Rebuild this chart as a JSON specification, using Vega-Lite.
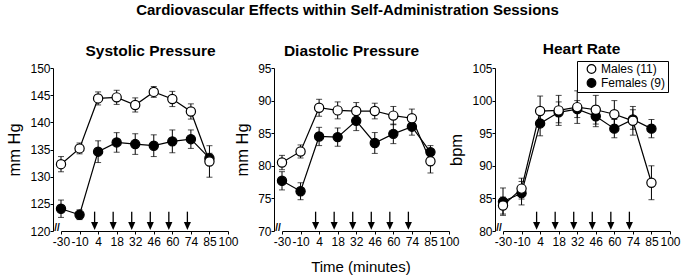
{
  "$schema": "https://vega.github.io/schema/vega-lite/v6.json",
  "padding": {"left": 6, "top": 3, "right": 2, "bottom": 4},
  "background": "white",
  "title": {"text": "Cardiovascular Effects within Self-Administration Sessions", "fontSize": 15, "fontWeight": "bold", "color": "black", "anchor": "middle", "offset": 24, "dx": 4},
  "config": {
    "font": "Liberation Sans",
    "view": {"stroke": null},
    "axis": {"labelFontSize": 12, "labelColor": "black", "domainColor": "black", "tickColor": "black", "titleColor": "black", "grid": false, "titleFontWeight": "normal", "labelOverlap": false},
    "axisX": {"labelAngle": 0, "tickSize": 3, "labelPadding": 2},
    "axisY": {"tickSize": 3, "labelPadding": 0, "offset": 8, "titleFontSize": 16.5, "titlePadding": 7, "labelOverlap": false},
    "title": {"color": "black"}
  },
  "datasets": {
    "bp": [
      {"panel": "sys", "sex": "Females (9)", "time": -30, "mean": 124.1, "err": 1.6},
      {"panel": "sys", "sex": "Females (9)", "time": -10, "mean": 123.0, "err": 0.9},
      {"panel": "sys", "sex": "Females (9)", "time": 4, "mean": 134.6, "err": 2.0},
      {"panel": "sys", "sex": "Females (9)", "time": 18, "mean": 136.3, "err": 1.8},
      {"panel": "sys", "sex": "Females (9)", "time": 32, "mean": 136.0, "err": 1.9},
      {"panel": "sys", "sex": "Females (9)", "time": 46, "mean": 135.7, "err": 2.0},
      {"panel": "sys", "sex": "Females (9)", "time": 60, "mean": 136.5, "err": 2.1},
      {"panel": "sys", "sex": "Females (9)", "time": 74, "mean": 136.9, "err": 1.7},
      {"panel": "sys", "sex": "Females (9)", "time": 85, "mean": 133.4, "err": 0.9},
      {"panel": "sys", "sex": "Males (11)", "time": -30, "mean": 132.3, "err": 1.4},
      {"panel": "sys", "sex": "Males (11)", "time": -10, "mean": 135.2, "err": 1.0},
      {"panel": "sys", "sex": "Males (11)", "time": 4, "mean": 144.4, "err": 1.2},
      {"panel": "sys", "sex": "Males (11)", "time": 18, "mean": 144.6, "err": 1.3},
      {"panel": "sys", "sex": "Males (11)", "time": 32, "mean": 143.2, "err": 1.3},
      {"panel": "sys", "sex": "Males (11)", "time": 46, "mean": 145.6, "err": 1.0},
      {"panel": "sys", "sex": "Males (11)", "time": 60, "mean": 144.3, "err": 1.4},
      {"panel": "sys", "sex": "Males (11)", "time": 74, "mean": 142.0, "err": 1.4},
      {"panel": "sys", "sex": "Males (11)", "time": 85, "mean": 132.8, "err": 2.9},
      {"panel": "dia", "sex": "Females (9)", "time": -30, "mean": 77.7, "err": 1.4},
      {"panel": "dia", "sex": "Females (9)", "time": -10, "mean": 76.1, "err": 1.3},
      {"panel": "dia", "sex": "Females (9)", "time": 4, "mean": 84.5, "err": 1.4},
      {"panel": "dia", "sex": "Females (9)", "time": 18, "mean": 84.4, "err": 1.4},
      {"panel": "dia", "sex": "Females (9)", "time": 32, "mean": 86.9, "err": 1.5},
      {"panel": "dia", "sex": "Females (9)", "time": 46, "mean": 83.5, "err": 1.6},
      {"panel": "dia", "sex": "Females (9)", "time": 60, "mean": 84.9, "err": 1.5},
      {"panel": "dia", "sex": "Females (9)", "time": 74, "mean": 86.0, "err": 1.3},
      {"panel": "dia", "sex": "Females (9)", "time": 85, "mean": 82.1, "err": 1.0},
      {"panel": "dia", "sex": "Males (11)", "time": -30, "mean": 80.5, "err": 1.1},
      {"panel": "dia", "sex": "Males (11)", "time": -10, "mean": 82.2, "err": 1.0},
      {"panel": "dia", "sex": "Males (11)", "time": 4, "mean": 88.9, "err": 1.3},
      {"panel": "dia", "sex": "Males (11)", "time": 18, "mean": 88.5, "err": 1.3},
      {"panel": "dia", "sex": "Males (11)", "time": 32, "mean": 88.4, "err": 1.3},
      {"panel": "dia", "sex": "Males (11)", "time": 46, "mean": 88.4, "err": 1.2},
      {"panel": "dia", "sex": "Males (11)", "time": 60, "mean": 87.7, "err": 1.4},
      {"panel": "dia", "sex": "Males (11)", "time": 74, "mean": 87.3, "err": 1.4},
      {"panel": "dia", "sex": "Males (11)", "time": 85, "mean": 80.7, "err": 1.8},
      {"panel": "hr", "sex": "Females (9)", "time": -30, "mean": 84.5, "err": 2.1},
      {"panel": "hr", "sex": "Females (9)", "time": -10, "mean": 85.8, "err": 1.8},
      {"panel": "hr", "sex": "Females (9)", "time": 4, "mean": 96.5, "err": 1.9},
      {"panel": "hr", "sex": "Females (9)", "time": 18, "mean": 98.2, "err": 1.6},
      {"panel": "hr", "sex": "Females (9)", "time": 32, "mean": 98.7, "err": 1.3},
      {"panel": "hr", "sex": "Females (9)", "time": 46, "mean": 97.6, "err": 1.6},
      {"panel": "hr", "sex": "Females (9)", "time": 60, "mean": 95.7, "err": 1.4},
      {"panel": "hr", "sex": "Females (9)", "time": 74, "mean": 97.1, "err": 1.5},
      {"panel": "hr", "sex": "Females (9)", "time": 85, "mean": 95.7, "err": 1.4},
      {"panel": "hr", "sex": "Males (11)", "time": -30, "mean": 83.9, "err": 1.3},
      {"panel": "hr", "sex": "Males (11)", "time": -10, "mean": 86.5, "err": 1.6},
      {"panel": "hr", "sex": "Males (11)", "time": 4, "mean": 98.4, "err": 2.3},
      {"panel": "hr", "sex": "Males (11)", "time": 18, "mean": 98.5, "err": 2.3},
      {"panel": "hr", "sex": "Males (11)", "time": 32, "mean": 99.0, "err": 2.5},
      {"panel": "hr", "sex": "Males (11)", "time": 46, "mean": 98.6, "err": 2.2},
      {"panel": "hr", "sex": "Males (11)", "time": 60, "mean": 97.9, "err": 2.1},
      {"panel": "hr", "sex": "Males (11)", "time": 74, "mean": 96.9, "err": 2.2},
      {"panel": "hr", "sex": "Males (11)", "time": 85, "mean": 87.4, "err": 2.6}
    ],
    "arrows": [
      {"panel": "sys", "time": 4, "top": 123.56, "tip": 120.92},
      {"panel": "sys", "time": 18, "top": 123.56, "tip": 120.92},
      {"panel": "sys", "time": 32, "top": 123.56, "tip": 120.92},
      {"panel": "sys", "time": 46, "top": 123.56, "tip": 120.92},
      {"panel": "sys", "time": 60, "top": 123.56, "tip": 120.92},
      {"panel": "sys", "time": 74, "top": 123.56, "tip": 120.92},
      {"panel": "dia", "time": 4, "top": 72.96, "tip": 70.77},
      {"panel": "dia", "time": 18, "top": 72.96, "tip": 70.77},
      {"panel": "dia", "time": 32, "top": 72.96, "tip": 70.77},
      {"panel": "dia", "time": 46, "top": 72.96, "tip": 70.77},
      {"panel": "dia", "time": 60, "top": 72.96, "tip": 70.77},
      {"panel": "dia", "time": 74, "top": 72.96, "tip": 70.77},
      {"panel": "hr", "time": 4, "top": 82.96, "tip": 80.77},
      {"panel": "hr", "time": 18, "top": 82.96, "tip": 80.77},
      {"panel": "hr", "time": 32, "top": 82.96, "tip": 80.77},
      {"panel": "hr", "time": 46, "top": 82.96, "tip": 80.77},
      {"panel": "hr", "time": 60, "top": 82.96, "tip": 80.77},
      {"panel": "hr", "time": 74, "top": 82.96, "tip": 80.77}
    ],
    "breaks": [
      {"panel": "sys", "time": -30, "y": 120, "mark": "//"},
      {"panel": "dia", "time": -30, "y": 70, "mark": "//"},
      {"panel": "hr", "time": -30, "y": 80, "mark": "//"}
    ]
  },
  "spacing": 54,
  "bounds": "flush",
  "resolve": {"legend": {"fill": "independent"}},
  "hconcat": [
    {
      "width": 167, "height": 163,
      "title": {"text": "Systolic Pressure", "fontSize": 15.5, "fontWeight": "bold", "offset": 3, "dx": 6},
      "layer": [
        {"data": {"name": "bp"}, "transform": [{"filter": "datum.panel === 'sys'"}],
         "mark": {"type": "errorbar", "ticks": {"size": 6, "color": "black"}, "rule": {"color": "black", "strokeWidth": 1}},
         "encoding": {
           "x": {"field": "time", "type": "ordinal", "scale": {"type": "point", "domain": [-30, -10, 4, 18, 32, 46, 60, 74, 85, 100], "padding": 0}, "axis": {"title": null}},
           "y": {"field": "mean", "type": "quantitative", "scale": {"domain": [120, 150], "nice": false, "zero": false}, "axis": {"title": "mm Hg", "values": [120, 125, 130, 135, 140, 145, 150], "labelOverlap": false}},
           "yError": {"field": "err"}}},
        {"data": {"name": "bp"}, "transform": [{"filter": "datum.panel === 'sys'"}],
         "mark": {"type": "line", "color": "black", "strokeWidth": 1.2},
         "encoding": {"x": {"field": "time", "type": "ordinal"}, "y": {"field": "mean", "type": "quantitative", "axis": {"title": "mm Hg", "values": [120, 125, 130, 135, 140, 145, 150], "labelOverlap": false}}, "detail": {"field": "sex"}}},
        {"data": {"name": "bp"}, "transform": [{"filter": "datum.panel === 'sys'"}],
         "mark": {"type": "point", "shape": "circle", "size": 85, "filled": true, "stroke": "black", "strokeWidth": 1.2, "opacity": 1},
         "encoding": {"x": {"field": "time", "type": "ordinal"}, "y": {"field": "mean", "type": "quantitative", "axis": {"title": "mm Hg", "values": [120, 125, 130, 135, 140, 145, 150], "labelOverlap": false}},
           "fill": {"field": "sex", "type": "nominal", "scale": {"domain": ["Males (11)", "Females (9)"], "range": ["white", "black"]}, "legend": null}}},
        {"data": {"name": "arrows"}, "transform": [{"filter": "datum.panel === 'sys'"}],
         "mark": {"type": "rule", "color": "black", "strokeWidth": 1.3, "xOffset": -3.5},
         "encoding": {"x": {"field": "time", "type": "ordinal"}, "y": {"field": "top", "type": "quantitative", "axis": {"title": "mm Hg", "values": [120, 125, 130, 135, 140, 145, 150], "labelOverlap": false}}, "y2": {"field": "tip"}}},
        {"data": {"name": "arrows"}, "transform": [{"filter": "datum.panel === 'sys'"}],
         "mark": {"type": "point", "shape": "M-1,-1.1L1,-1.1L0,1.1Z", "size": 50, "filled": true, "color": "black", "opacity": 1, "xOffset": -3.5},
         "encoding": {"x": {"field": "time", "type": "ordinal"}, "y": {"field": "tip", "type": "quantitative", "axis": {"title": "mm Hg", "values": [120, 125, 130, 135, 140, 145, 150], "labelOverlap": false}}}},
        {"data": {"name": "breaks"}, "transform": [{"filter": "datum.panel === 'sys'"}],
         "mark": {"type": "text", "fontSize": 10, "fontWeight": "bold", "color": "black", "dx": -4, "dy": -3, "align": "center", "baseline": "middle"},
         "encoding": {"x": {"field": "time", "type": "ordinal"}, "y": {"field": "y", "type": "quantitative", "axis": {"title": "mm Hg", "values": [120, 125, 130, 135, 140, 145, 150], "labelOverlap": false}}, "text": {"field": "mark"}}}
      ]
    },
    {
      "width": 167, "height": 163,
      "title": {"text": "Diastolic Pressure", "fontSize": 15.5, "fontWeight": "bold", "offset": 3, "dx": -14},
      "layer": [
        {"data": {"name": "bp"}, "transform": [{"filter": "datum.panel === 'dia'"}],
         "mark": {"type": "errorbar", "ticks": {"size": 6, "color": "black"}, "rule": {"color": "black", "strokeWidth": 1}},
         "encoding": {
           "x": {"field": "time", "type": "ordinal", "scale": {"type": "point", "domain": [-30, -10, 4, 18, 32, 46, 60, 74, 85, 100], "padding": 0}, "axis": {"title": "Time (minutes)", "titleFontSize": 15, "titlePadding": 12, "titleX": 78.4}},
           "y": {"field": "mean", "type": "quantitative", "scale": {"domain": [70, 95], "nice": false, "zero": false}, "axis": {"title": "mm Hg", "values": [70, 75, 80, 85, 90, 95], "labelOverlap": false}},
           "yError": {"field": "err"}}},
        {"data": {"name": "bp"}, "transform": [{"filter": "datum.panel === 'dia'"}],
         "mark": {"type": "line", "color": "black", "strokeWidth": 1.2},
         "encoding": {"x": {"field": "time", "type": "ordinal"}, "y": {"field": "mean", "type": "quantitative", "axis": {"title": "mm Hg", "values": [70, 75, 80, 85, 90, 95], "labelOverlap": false}}, "detail": {"field": "sex"}}},
        {"data": {"name": "bp"}, "transform": [{"filter": "datum.panel === 'dia'"}],
         "mark": {"type": "point", "shape": "circle", "size": 85, "filled": true, "stroke": "black", "strokeWidth": 1.2, "opacity": 1},
         "encoding": {"x": {"field": "time", "type": "ordinal"}, "y": {"field": "mean", "type": "quantitative", "axis": {"title": "mm Hg", "values": [70, 75, 80, 85, 90, 95], "labelOverlap": false}},
           "fill": {"field": "sex", "type": "nominal", "scale": {"domain": ["Males (11)", "Females (9)"], "range": ["white", "black"]}, "legend": null}}},
        {"data": {"name": "arrows"}, "transform": [{"filter": "datum.panel === 'dia'"}],
         "mark": {"type": "rule", "color": "black", "strokeWidth": 1.3, "xOffset": -3.5},
         "encoding": {"x": {"field": "time", "type": "ordinal"}, "y": {"field": "top", "type": "quantitative", "axis": {"title": "mm Hg", "values": [70, 75, 80, 85, 90, 95], "labelOverlap": false}}, "y2": {"field": "tip"}}},
        {"data": {"name": "arrows"}, "transform": [{"filter": "datum.panel === 'dia'"}],
         "mark": {"type": "point", "shape": "M-1,-1.1L1,-1.1L0,1.1Z", "size": 50, "filled": true, "color": "black", "opacity": 1, "xOffset": -3.5},
         "encoding": {"x": {"field": "time", "type": "ordinal"}, "y": {"field": "tip", "type": "quantitative", "axis": {"title": "mm Hg", "values": [70, 75, 80, 85, 90, 95], "labelOverlap": false}}}},
        {"data": {"name": "breaks"}, "transform": [{"filter": "datum.panel === 'dia'"}],
         "mark": {"type": "text", "fontSize": 10, "fontWeight": "bold", "color": "black", "dx": -4, "dy": -3, "align": "center", "baseline": "middle"},
         "encoding": {"x": {"field": "time", "type": "ordinal"}, "y": {"field": "y", "type": "quantitative", "axis": {"title": "mm Hg", "values": [70, 75, 80, 85, 90, 95], "labelOverlap": false}}, "text": {"field": "mark"}}}
      ]
    },
    {
      "width": 167, "height": 163,
      "title": {"text": "Heart Rate", "fontSize": 15.5, "fontWeight": "bold", "offset": 3, "dx": -5},
      "layer": [
        {"data": {"name": "bp"}, "transform": [{"filter": "datum.panel === 'hr'"}],
         "mark": {"type": "errorbar", "ticks": {"size": 6, "color": "black"}, "rule": {"color": "black", "strokeWidth": 1}},
         "encoding": {
           "x": {"field": "time", "type": "ordinal", "scale": {"type": "point", "domain": [-30, -10, 4, 18, 32, 46, 60, 74, 85, 100], "padding": 0}, "axis": {"title": null}},
           "y": {"field": "mean", "type": "quantitative", "scale": {"domain": [80, 105], "nice": false, "zero": false}, "axis": {"title": "bpm", "values": [80, 85, 90, 95, 100, 105], "labelOverlap": false}},
           "yError": {"field": "err"}}},
        {"data": {"name": "bp"}, "transform": [{"filter": "datum.panel === 'hr'"}],
         "mark": {"type": "line", "color": "black", "strokeWidth": 1.2},
         "encoding": {"x": {"field": "time", "type": "ordinal"}, "y": {"field": "mean", "type": "quantitative", "axis": {"title": "bpm", "values": [80, 85, 90, 95, 100, 105], "labelOverlap": false}}, "detail": {"field": "sex"}}},
        {"data": {"name": "bp"}, "transform": [{"filter": "datum.panel === 'hr'"}],
         "mark": {"type": "point", "shape": "circle", "size": 85, "filled": true, "stroke": "black", "strokeWidth": 1.2, "opacity": 1},
         "encoding": {"x": {"field": "time", "type": "ordinal"}, "y": {"field": "mean", "type": "quantitative", "axis": {"title": "bpm", "values": [80, 85, 90, 95, 100, 105], "labelOverlap": false}},
           "fill": {"field": "sex", "type": "nominal", "scale": {"domain": ["Males (11)", "Females (9)"], "range": ["white", "black"]},
             "legend": {"orient": "none", "legendX": 74, "legendY": -7, "title": null, "strokeColor": "black", "fillColor": "white", "padding": 2, "symbolOffset": 6.5, "symbolType": "circle", "symbolSize": 75, "symbolStrokeColor": "black", "symbolStrokeWidth": 1.2, "symbolOpacity": 1, "labelFontSize": 12, "labelColor": "black", "labelOffset": 3.5, "rowPadding": 0, "labelLimit": 200}}}},
        {"data": {"name": "arrows"}, "transform": [{"filter": "datum.panel === 'hr'"}],
         "mark": {"type": "rule", "color": "black", "strokeWidth": 1.3, "xOffset": -3.5},
         "encoding": {"x": {"field": "time", "type": "ordinal"}, "y": {"field": "top", "type": "quantitative", "axis": {"title": "bpm", "values": [80, 85, 90, 95, 100, 105], "labelOverlap": false}}, "y2": {"field": "tip"}}},
        {"data": {"name": "arrows"}, "transform": [{"filter": "datum.panel === 'hr'"}],
         "mark": {"type": "point", "shape": "M-1,-1.1L1,-1.1L0,1.1Z", "size": 50, "filled": true, "color": "black", "opacity": 1, "xOffset": -3.5},
         "encoding": {"x": {"field": "time", "type": "ordinal"}, "y": {"field": "tip", "type": "quantitative", "axis": {"title": "bpm", "values": [80, 85, 90, 95, 100, 105], "labelOverlap": false}}}},
        {"data": {"name": "breaks"}, "transform": [{"filter": "datum.panel === 'hr'"}],
         "mark": {"type": "text", "fontSize": 10, "fontWeight": "bold", "color": "black", "dx": -4, "dy": -3, "align": "center", "baseline": "middle"},
         "encoding": {"x": {"field": "time", "type": "ordinal"}, "y": {"field": "y", "type": "quantitative", "axis": {"title": "bpm", "values": [80, 85, 90, 95, 100, 105], "labelOverlap": false}}, "text": {"field": "mark"}}}
      ]
    }
  ]
}
